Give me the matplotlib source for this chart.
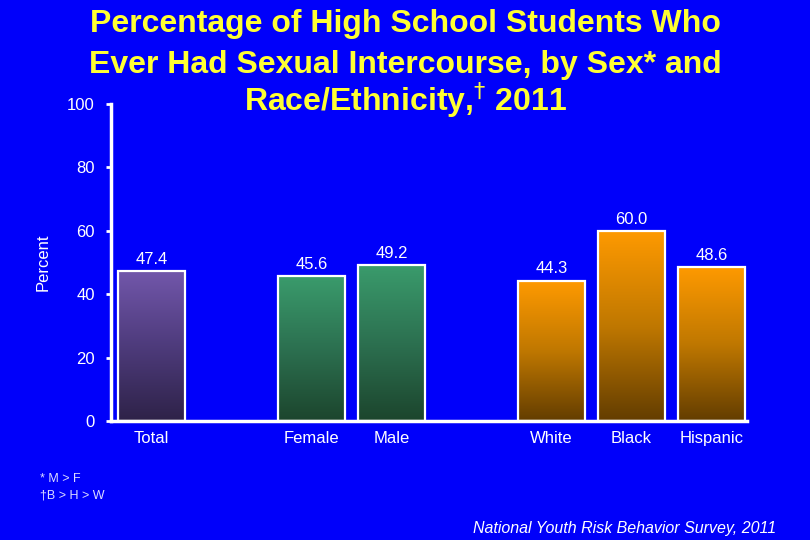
import matplotlib.pyplot as plt
import numpy as np
from matplotlib.colors import LinearSegmentedColormap

# chart data
groups = [["Total"], ["Female", "Male"], ["White", "Black", "Hispanic"]]
values = [47.4, 45.6, 49.2, 44.3, 60.0, 48.6]
# bottom -> middle -> top of each bar
group_colors = [("#2e2248", "#4e3b7c", "#7257ab"),
                ("#1c452d", "#2c7050", "#3a9b6c"),
                ("#633d00", "#c07800", "#ff9a00")]
y_ticks = [0, 20, 40, 60, 80, 100]

title_lines = ["Percentage of High School Students Who",
               "Ever Had Sexual Intercourse, by Sex* and",
               "Race/Ethnicity,$^{\\dagger}$ 2011"]
footnotes = ["* M > F", "\u2020B > H > W"]
source = "National Youth Risk Behavior Survey, 2011"

BG = "#0000fa"
TITLE_FONT = ["Liberation Sans Narrow", "Liberation Sans", "DejaVu Sans"]
FONT = ["Liberation Sans", "DejaVu Sans"]

fig = plt.figure(figsize=(8.1, 5.4), dpi=100, facecolor=BG)
ax = fig.add_axes([0.137, 0.2204, 0.785, 0.587], facecolor=BG)

# positions: groups separated by one empty slot
labels, positions, cmaps = [], [], []
pos = 0
for grp, stops in zip(groups, group_colors):
    cmap = LinearSegmentedColormap.from_list("g", list(stops))
    for name in grp:
        labels.append(name)
        positions.append(pos)
        cmaps.append(cmap)
        pos += 1
    pos += 1

width = 0.84
bars = ax.bar(positions, values, width=width, facecolor="none",
              edgecolor="white", linewidth=1.6, zorder=3)

grad = np.linspace(0, 1, 256).reshape(-1, 1)
for bar, cmap in zip(bars, cmaps):
    x0, h = bar.get_x(), bar.get_height()
    im = ax.imshow(grad, cmap=cmap, origin="lower", aspect="auto",
                   extent=[x0, x0 + width, 0, h], zorder=2)
    im.set_clip_path(bar)

for p, v in zip(positions, values):
    ax.annotate(f"{v:.1f}", (p, v), xytext=(0, 3), textcoords="offset points",
                ha="center", va="bottom", color="white", fontsize=12, family=FONT)

ax.set_xlim(-0.506, 7.44)
ax.set_ylim(0, 100)
ax.set_xticks(positions)
ax.set_xticklabels(labels, family=FONT, fontsize=12, color="white")
ax.tick_params(axis="x", length=0, pad=7)
ax.set_yticks(y_ticks)
ax.set_yticklabels([str(t) for t in y_ticks], family=FONT, fontsize=12, color="white")
ax.tick_params(axis="y", length=3.6, width=2, color="white", pad=8)

for side in ("top", "right"):
    ax.spines[side].set_visible(False)
for side in ("left", "bottom"):
    ax.spines[side].set_color("white")
    ax.spines[side].set_linewidth(2.5)
ax.spines["left"].set_zorder(5)

ax.set_ylabel("Percent", color="white", family=FONT, fontsize=12, labelpad=12)

for line, yb in zip(title_lines, [0.941, 0.865, 0.794]):
    fig.text(0.5, yb, line, ha="center", va="baseline", color="#ffff33",
             fontsize=23, fontweight="bold", family=TITLE_FONT)

fig.text(0.05, 0.113, footnotes[0], color="#dcdcff", fontsize=9, family=FONT, va="center")
fig.text(0.05, 0.083, footnotes[1], color="#dcdcff", fontsize=9, family=FONT, va="center")
fig.text(0.958, 0.022, source, ha="right", va="center", color="white",
         fontsize=11.5, style="italic", family=FONT)

fig.savefig("out.png", dpi=100, facecolor=BG)
